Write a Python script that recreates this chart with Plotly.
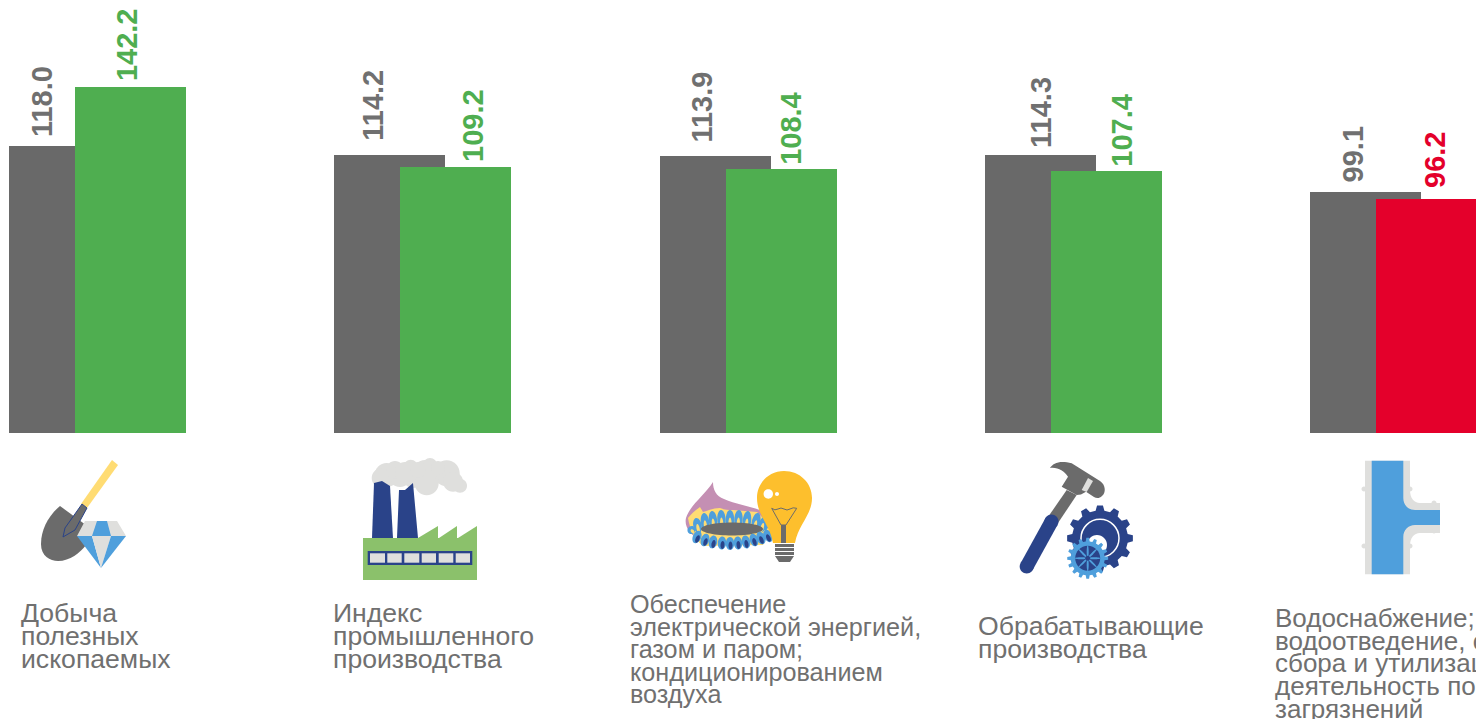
import math
import re
import plotly.graph_objects as go

categories = ["Добыча полезных ископаемых", "Индекс промышленного производства",
              "Обеспечение электрической энергией, газом и паром; кондиционированием воздуха",
              "Обрабатывающие производства",
              "Водоснабжение; водоотведение, организация сбора и утилизации отходов, деятельность по ликвидации загрязнений"]
previous_values = [118.0, 114.2, 113.9, 114.3, 99.1]
current_values = [142.2, 109.2, 108.4, 107.4, 96.2]
category_lines = [
    ["Добыча", "полезных", "ископаемых"],
    ["Индекс", "промышленного", "производства"],
    ["Обеспечение", "электрической энергией,", "газом и паром;", "кондиционированием", "воздуха"],
    ["Обрабатывающие", "производства"],
    ["Водоснабжение;", "водоотведение, организация", "сбора и утилизации отходов,", "деятельность по ликвидации", "загрязнений"],
]

W, H = 1476, 719
GREY, GREEN, RED = "#696969", "#4fae50", "#e4002b"
TEXT = "#707070"
NAVY, BLUE, LG, DG = "#2a4389", "#4f9fdc", "#dfdfdd", "#6b6b6b"
YEL, PINK, LEAF = "#ffdc73", "#c48fb3", "#8bc16b"
BASE_Y = 433
PX_PER_UNIT = 2.436
SPACING = 325.25
FIRST = 97.5
cur_colors = [RED if v < 100 else GREEN for v in current_values]

fig = go.Figure()
bar_w = 111 / SPACING
fig.add_bar(x=categories, y=previous_values, marker_color=GREY, marker_line_width=0,
            width=bar_w, offset=(9.2 - FIRST) / SPACING)
fig.add_bar(x=categories, y=current_values, marker_color=cur_colors, marker_line_width=0,
            width=bar_w, offset=(75 - FIRST) / SPACING)

# value labels
prev_dx = [-55.5, -49.3, -45.5, -32.4, -45.7]
cur_dx = [29.5, 50.7, 43.4, 48.6, 35.8]
prev_gap = [7, 13, 12, 6, 8]
cur_gap = [4, 4, 3, 4, 10]
ann = []
for c, v, dx, g in zip(categories, previous_values, prev_dx, prev_gap):
    ann.append(dict(x=c, y=v, text=f"{v:.1f}", textangle=-90, xanchor="center", yanchor="bottom",
                    xshift=dx, yshift=g, showarrow=False, borderpad=0,
                    font=dict(family="Liberation Sans", size=29, color=TEXT, weight="bold")))
for c, v, dx, g, col in zip(categories, current_values, cur_dx, cur_gap, cur_colors):
    ann.append(dict(x=c, y=v, text=f"{v:.1f}", textangle=-90, xanchor="center", yanchor="bottom",
                    xshift=dx, yshift=g, showarrow=False, borderpad=0,
                    font=dict(family="Liberation Sans", size=29, color=col, weight="bold")))

# category captions, one annotation per line for the tight leading
cap_x = [20, 332, 629, 977, 1274]
cap_y = [613, 613, 604, 626, 618]
cap_step = [23, 23.2, 22.5, 23, 22.7]
cap_size = [26.6, 26.6, 25.2, 26.6, 26]
for lines, x0, y0, st, fs in zip(category_lines, cap_x, cap_y, cap_step, cap_size):
    for i, t in enumerate(lines):
        ann.append(dict(xref="paper", yref="paper", x=x0 / W, y=1 - (y0 + i * st) / H, text=t,
                        xanchor="left", yanchor="middle", showarrow=False, borderpad=0, align="left",
                        font=dict(family="Liberation Sans", size=fs, color=TEXT)))

# ---- pictograms, drawn in pixel space ----
shapes = []


def conv(path):
    toks = re.findall(r"[MLCQZ]|-?\d+\.?\d*", path)
    out, isx = [], True
    for t in toks:
        if t.isalpha():
            out.append(t)
            isx = True
        else:
            v = float(t)
            out.append(f"{v / W:.5f}" if isx else f"{1 - v / H:.5f}")
            isx = not isx
    return " ".join(out)


def sh(path, fill, line=None, lw=0):
    shapes.append(dict(type="path", xref="paper", yref="paper", path=conv(path), fillcolor=fill,
                       line=dict(color=line or fill, width=lw), layer="above"))


def poly(pts, fill, line=None, lw=0):
    sh("M" + " L".join(f"{x},{y}" for x, y in pts) + " Z", fill, line, lw)


def ell(cx, cy, rx, ry, rot, fill, line=None, lw=0):
    k = 0.5523
    c, s = math.cos(rot), math.sin(rot)
    def p(a, b):
        return f"{cx + a * rx * c - b * ry * s:.2f},{cy + a * rx * s + b * ry * c:.2f}"
    sh(f"M{p(1, 0)} C{p(1, k)} {p(k, 1)} {p(0, 1)} C{p(-k, 1)} {p(-1, k)} {p(-1, 0)} "
       f"C{p(-1, -k)} {p(-k, -1)} {p(0, -1)} C{p(k, -1)} {p(1, -k)} {p(1, 0)} Z", fill, line, lw)


def circ(cx, cy, r, fill, line=None, lw=0):
    ell(cx, cy, r, r, 0, fill, line, lw)


def gear(cx, cy, r1, r2, n, fill):
    pts = []
    for i in range(n):
        a = 2 * math.pi * i / n
        st = 2 * math.pi / n
        for da, r in ((-0.3, r1), (-0.17, r2), (0.17, r2), (0.3, r1)):
            pts.append((round(cx + r * math.cos(a + da * st), 2), round(cy + r * math.sin(a + da * st), 2)))
    poly(pts, fill)


# shovel + diamond
poly([(112, 460), (118, 465), (87, 508), (81, 504)], YEL)
sh("M60,506 C48,516 41,530 41,544 C41,556 50,561 58,561 C70,561 80,553 86,545 L90,528 Z", DG)
poly([(82, 504), (87, 508), (75, 530), (63, 537), (65, 528)], DG, NAVY, 1)
poly([(85, 521), (117, 521), (126, 536), (77, 536)], LG)
poly([(97, 521), (107, 521), (111, 536), (92, 536)], BLUE)
poly([(77, 536), (92, 536), (101, 568)], BLUE)
poly([(92, 536), (111, 536), (101, 568)], LG)
poly([(111, 536), (126, 536), (101, 568)], BLUE)

# factory
for cx, cy, r in [(386.7, 475, 12), (400, 475, 12), (410.7, 466.7, 7), (430, 465, 7), (446.7, 473.3, 13),
                  (426.7, 483.3, 12), (460, 485.7, 7), (413, 478, 10), (381.7, 478, 10), (453, 481.7, 10),
                  (425, 472, 12), (395, 470, 9), (405, 472, 10), (418, 470, 8), (438, 468, 7)]:
    circ(cx, cy, r, LG)
poly([(372, 538), (374, 483), (382, 481), (390, 486), (393, 538)], NAVY)
poly([(397, 538), (399, 490), (405, 490), (413, 483), (418, 538)], NAVY)
poly([(363, 538), (477, 538), (477, 580), (363, 580)], LEAF)
poly([(418, 538), (438, 526), (438, 538)], LEAF)
poly([(439, 538), (457, 526), (457, 538)], LEAF)
poly([(458, 538), (477, 526), (477, 538)], LEAF)
poly([(367.7, 551), (472.3, 551), (472.3, 565), (367.7, 565)], NAVY)
for a, b in [(370, 385), (387.3, 401.7), (404.3, 419.3), (421.7, 436), (438.7, 453.3), (455.7, 470)]:
    poly([(a, 553.3), (b, 553.3), (b, 562.7), (a, 562.7)], LG)

# burner + bulb
sh("M686,518 C690,505 705,495 713,482 C713,490 716,496 724,499 C735,504 748,506 760,510 L770,530 L700,540 "
   "C690,535 684,526 686,518 Z", PINK)
sh("M688,518 C692,513 696,510 700,507 L703,512 C710,510 714,508 720,508 C725,510 728,510 733,510 "
   "L757,512 L772,527 L763,545 L703,546 C695,540 690,530 688,518 Z", YEL)
for px, py, tx, ty in [(694, 533, 689, 527), (699, 533, 696, 518), (706, 531, 704, 513), (714, 530, 712, 511),
                       (722, 529, 721, 510), (730, 529, 730, 510), (738, 529, 739, 510), (746, 530, 748, 511),
                       (754, 531, 758, 513), (761, 532, 765, 517), (767, 533, 771, 524)]:
    ang = math.atan2(ty - py, tx - px)
    ln = math.hypot(tx - px, ty - py) / 2
    ell((px + tx) / 2, (py + ty) / 2, ln, 4.2, ang, BLUE)
    ell(px + (tx - px) * .3, py + (ty - py) * .3, ln * .6, 1.6, ang, YEL)
ell(732, 529, 31, 6.5, 0, DG)
for x, y in [(697, 537), (705, 540), (713, 542), (722, 543), (730, 543.5), (738, 543), (746, 542), (754, 540),
             (761, 538), (768, 536)]:
    ell(x, y, 4.2, 6.5, (730 - x) * 0.012, BLUE)
    ell(x + 0.5, y + 2, 2, 4, (730 - x) * 0.012, NAVY)
sh("M773,543 C770,525 757,515 757,498 C757,483 769,471 784,471 C800,471 812,483 812,498 "
   "C812,515 798,525 795,543 Z", "#fdbf2d")
circ(768.3, 494, 4.7, "white")
circ(777, 494, 2, "white")
sh("M771.7,508.3 Q775,511 778,509 Q781,507 784,509 Q787,511 790,509 Q793,507 796.7,508.3 L786,525 L781,525 Z",
   "rgba(0,0,0,0)", DG, 1)
poly([(781, 525), (786, 525), (786, 543), (781, 543)], DG)
poly([(775, 544), (794, 544), (794, 556), (790, 562), (779, 562), (775, 556)], DG)
for yy in (547, 551, 555):
    poly([(775, yy), (794, yy), (794, yy + 1), (775, yy + 1)], "white")

# hammer + gears
poly([(1066.7, 490), (1076.7, 495), (1058, 523), (1048, 517)], DG)
sh("M1050,468 C1053,463 1060,460 1071.7,463.3 L1100,481 C1106,485 1106,493 1102,496 C1099,499 1096,498 1094,497 "
   "L1086,491.7 L1081,494.5 L1076.7,495 L1061.7,486.7 L1068,476.7 C1064,471 1058,467 1050,468 Z", DG)
poly([(1088, 478), (1093, 481), (1086.7, 492), (1081.7, 490)], LG)
poly([(1045.5, 518), (1057.5, 525), (1032.7, 570), (1020.7, 563)], NAVY)
circ(1051.5, 521.5, 7, NAVY)
circ(1026.7, 566.5, 7, NAVY)
gear(1100, 538.3, 28, 33, 12, NAVY)
circ(1100, 538.3, 19, "rgba(0,0,0,0)", "white", 1.5)
circ(1097, 545, 10, "white")
gear(1087.7, 558.3, 17, 20.5, 16, BLUE)
circ(1087.7, 558.3, 12.5, NAVY)
for k in range(8):
    a = k * math.pi / 4
    ell(1087.7 + 6.5 * math.cos(a), 558.3 + 6.5 * math.sin(a), 6.5, 1, a, BLUE)
circ(1087.7, 558.3, 2.5, NAVY)

# pipe
sh("M1365,460.7 L1410,460.7 L1410,490 C1410,498 1414,503 1420,503 L1440,503 L1440,533 L1420,533 "
   "C1414,533 1410,538 1410,546 L1410,574.3 L1365,574.3 Z", LG)
sh("M1371.7,460.7 L1403.3,460.7 L1403.3,498 C1403.3,505 1408,510 1415,510 L1440,510 L1440,525 L1415,525 "
   "C1408,525 1403.3,530 1403.3,537 L1403.3,574.3 L1371.7,574.3 Z", BLUE)
for x, y in [(1364, 489), (1364, 546), (1410, 489), (1410, 546), (1434, 503), (1434, 531)]:
    circ(x, y, 2.5, LG)

fig.update_layout(
    width=W, height=H, autosize=False, margin=dict(l=0, r=0, t=0, b=0),
    paper_bgcolor="white", plot_bgcolor="white", showlegend=False, barmode="overlay",
    bargap=0, annotations=ann, shapes=shapes,
    xaxis=dict(type="category", categoryorder="array", categoryarray=categories,
               range=[-FIRST / SPACING, (W - FIRST) / SPACING], visible=False, domain=[0, 1]),
    yaxis=dict(range=[0, BASE_Y / PX_PER_UNIT], visible=False, domain=[1 - BASE_Y / H, 1]),
)
fig.write_html("out.html", config=dict(displayModeBar=False),
               post_script="document.body.style.margin='0';document.body.style.overflow='hidden';")
